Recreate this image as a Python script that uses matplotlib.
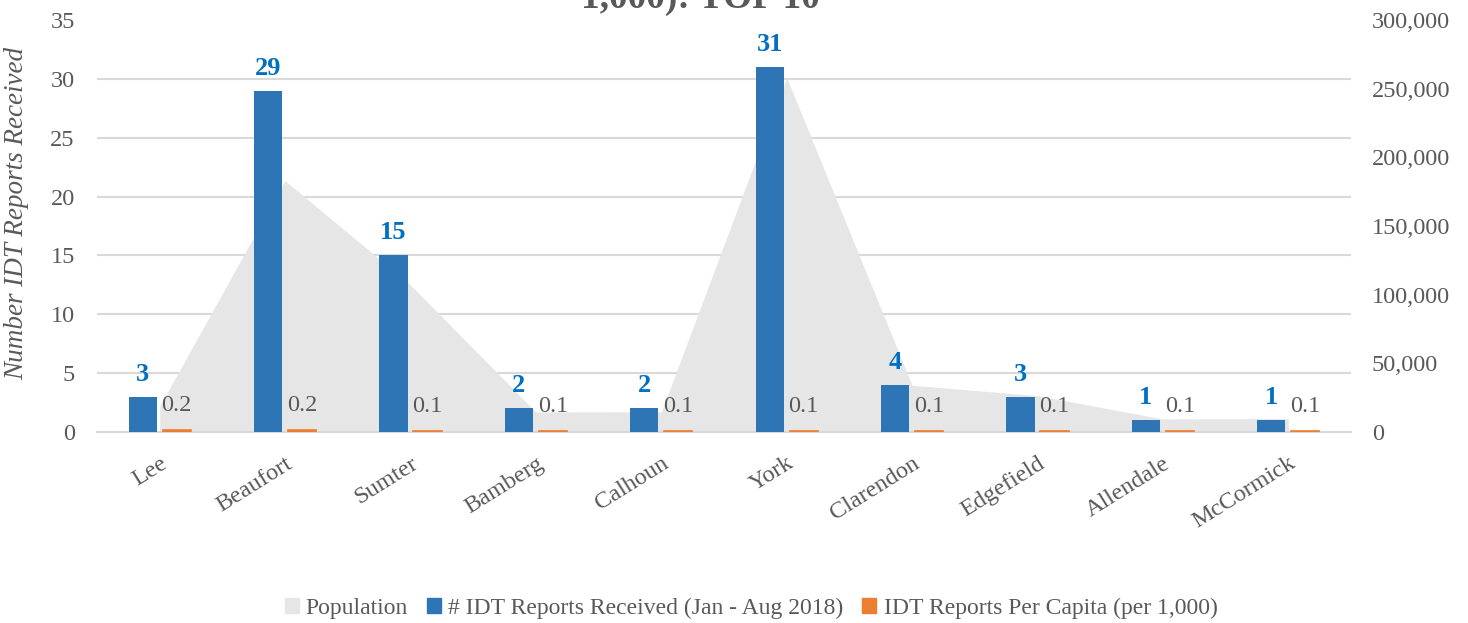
import matplotlib.pyplot as plt
import numpy as np
from matplotlib.patches import Patch
from matplotlib.ticker import FuncFormatter
from matplotlib.transforms import ScaledTranslation

# datos
condados = ['Lee', 'Beaufort', 'Sumter', 'Bamberg', 'Calhoun', 'York',
            'Clarendon', 'Edgefield', 'Allendale', 'McCormick']
reportes = [3, 29, 15, 2, 2, 31, 4, 3, 1, 1]
per_capita = [0.2, 0.2, 0.1, 0.1, 0.1, 0.1, 0.1, 0.1, 0.1, 0.1]
poblacion = [18900, 183000, 107000, 14600, 14700, 258000, 34000, 26500, 9500, 9800]

azul = '#2E75B6'
naranja = '#ED7D31'
gris_area = '#E7E6E6'
gris_texto = '#595959'
fuente = ['Liberation Serif', 'DejaVu Serif']
tam = 17.5

plt.rcParams['font.family'] = fuente

fig = plt.figure(figsize=(14.68, 6.23), dpi=100)
ax = fig.add_axes([97 / 1468, 1 - 432 / 623, (1351 - 97) / 1468, (432 - 20) / 623])
ax2 = ax.twinx()
ax.set_zorder(ax2.get_zorder() + 1)
ax.patch.set_visible(False)

x = np.arange(len(condados))
ancho = 0.225
desp = 0.135

# area de poblacion (eje derecho)
ax2.fill_between(x, poblacion, 0, color=gris_area, linewidth=0, zorder=2)
ax2.set_ylim(0, 300000)
ax2.set_yticks(np.arange(0, 300001, 50000))
ax2.yaxis.set_major_formatter(FuncFormatter(lambda v, p: f'{int(v):,}'))
# las lineas de la grilla siguen al eje izquierdo, pero quedan detras del area
ax2.set_yticks(np.arange(0, 36, 5) * 300000 / 35, minor=True)
ax2.grid(axis='y', which='minor', color='#D9D9D9', linewidth=1.5, zorder=0)
ax2.grid(axis='y', which='major', visible=False)
ax2.tick_params(which='minor', length=0)
ax2.set_axisbelow(True)

# barras (eje izquierdo)
ax.bar(x - desp, reportes, ancho, color=azul, zorder=3)
ax.bar(x + desp, per_capita, ancho, color=naranja, edgecolor=naranja,
       linewidth=1.2, zorder=3)
ax.set_ylim(0, 35)
ax.set_yticks(range(0, 36, 5))
ax.set_xlim(-0.5, len(condados) - 0.5)

for xi, v in zip(x - desp, reportes):
    ax.annotate(str(v), (xi, v), xytext=(0, 8), textcoords='offset points',
                ha='center', va='bottom', color='#0070C0', fontsize=19,
                fontweight='bold')
for xi, v in zip(x + desp, per_capita):
    ax.annotate(f'{v:.1f}', (xi, v), xytext=(0, 10), textcoords='offset points',
                ha='center', va='bottom', color=gris_texto, fontsize=tam)

ax.set_xticks(x)
ax.set_xticklabels(condados, rotation=32, ha='right', rotation_mode='anchor')
corrimiento = ScaledTranslation(-0.06, 0, fig.dpi_scale_trans)
for etiqueta in ax.get_xticklabels():
    etiqueta.set_transform(etiqueta.get_transform() + corrimiento)
ax.tick_params(axis='x', length=0, pad=15, labelsize=tam, labelcolor=gris_texto)
ax.tick_params(axis='y', length=0, pad=16, labelsize=tam, labelcolor=gris_texto)
ax2.tick_params(axis='y', length=0, pad=15, labelsize=tam, labelcolor=gris_texto)

for a in (ax, ax2):
    for lado in ('top', 'left', 'right'):
        a.spines[lado].set_visible(False)
    a.spines['bottom'].set_color('#D9D9D9')
    a.spines['bottom'].set_linewidth(1.5)

ax.set_ylabel('Number IDT Reports Received', fontsize=19.5, style='italic',
              color=gris_texto)
ax.yaxis.set_label_coords(-0.054, 0.53)

# titulo cortado arriba
fig.text(700 / 1468, 1 - 8 / 623, '1,000): TOP 10', ha='center', va='baseline',
         fontsize=27, fontweight='bold', color=gris_texto)

handles = [Patch(color=gris_area), Patch(color=azul), Patch(color=naranja)]
nombres = ['Population', '# IDT Reports Received (Jan - Aug 2018)',
           'IDT Reports Per Capita (per 1,000)']
fig.legend(handles, nombres, loc='center', bbox_to_anchor=(751 / 1468, 1 - 608 / 623),
           ncol=3, frameon=False, fontsize=17, labelcolor=gris_texto,
           handlelength=0.6, handleheight=0.6, handletextpad=0.3, columnspacing=0.8)

fig.savefig('out.png', dpi=100)
